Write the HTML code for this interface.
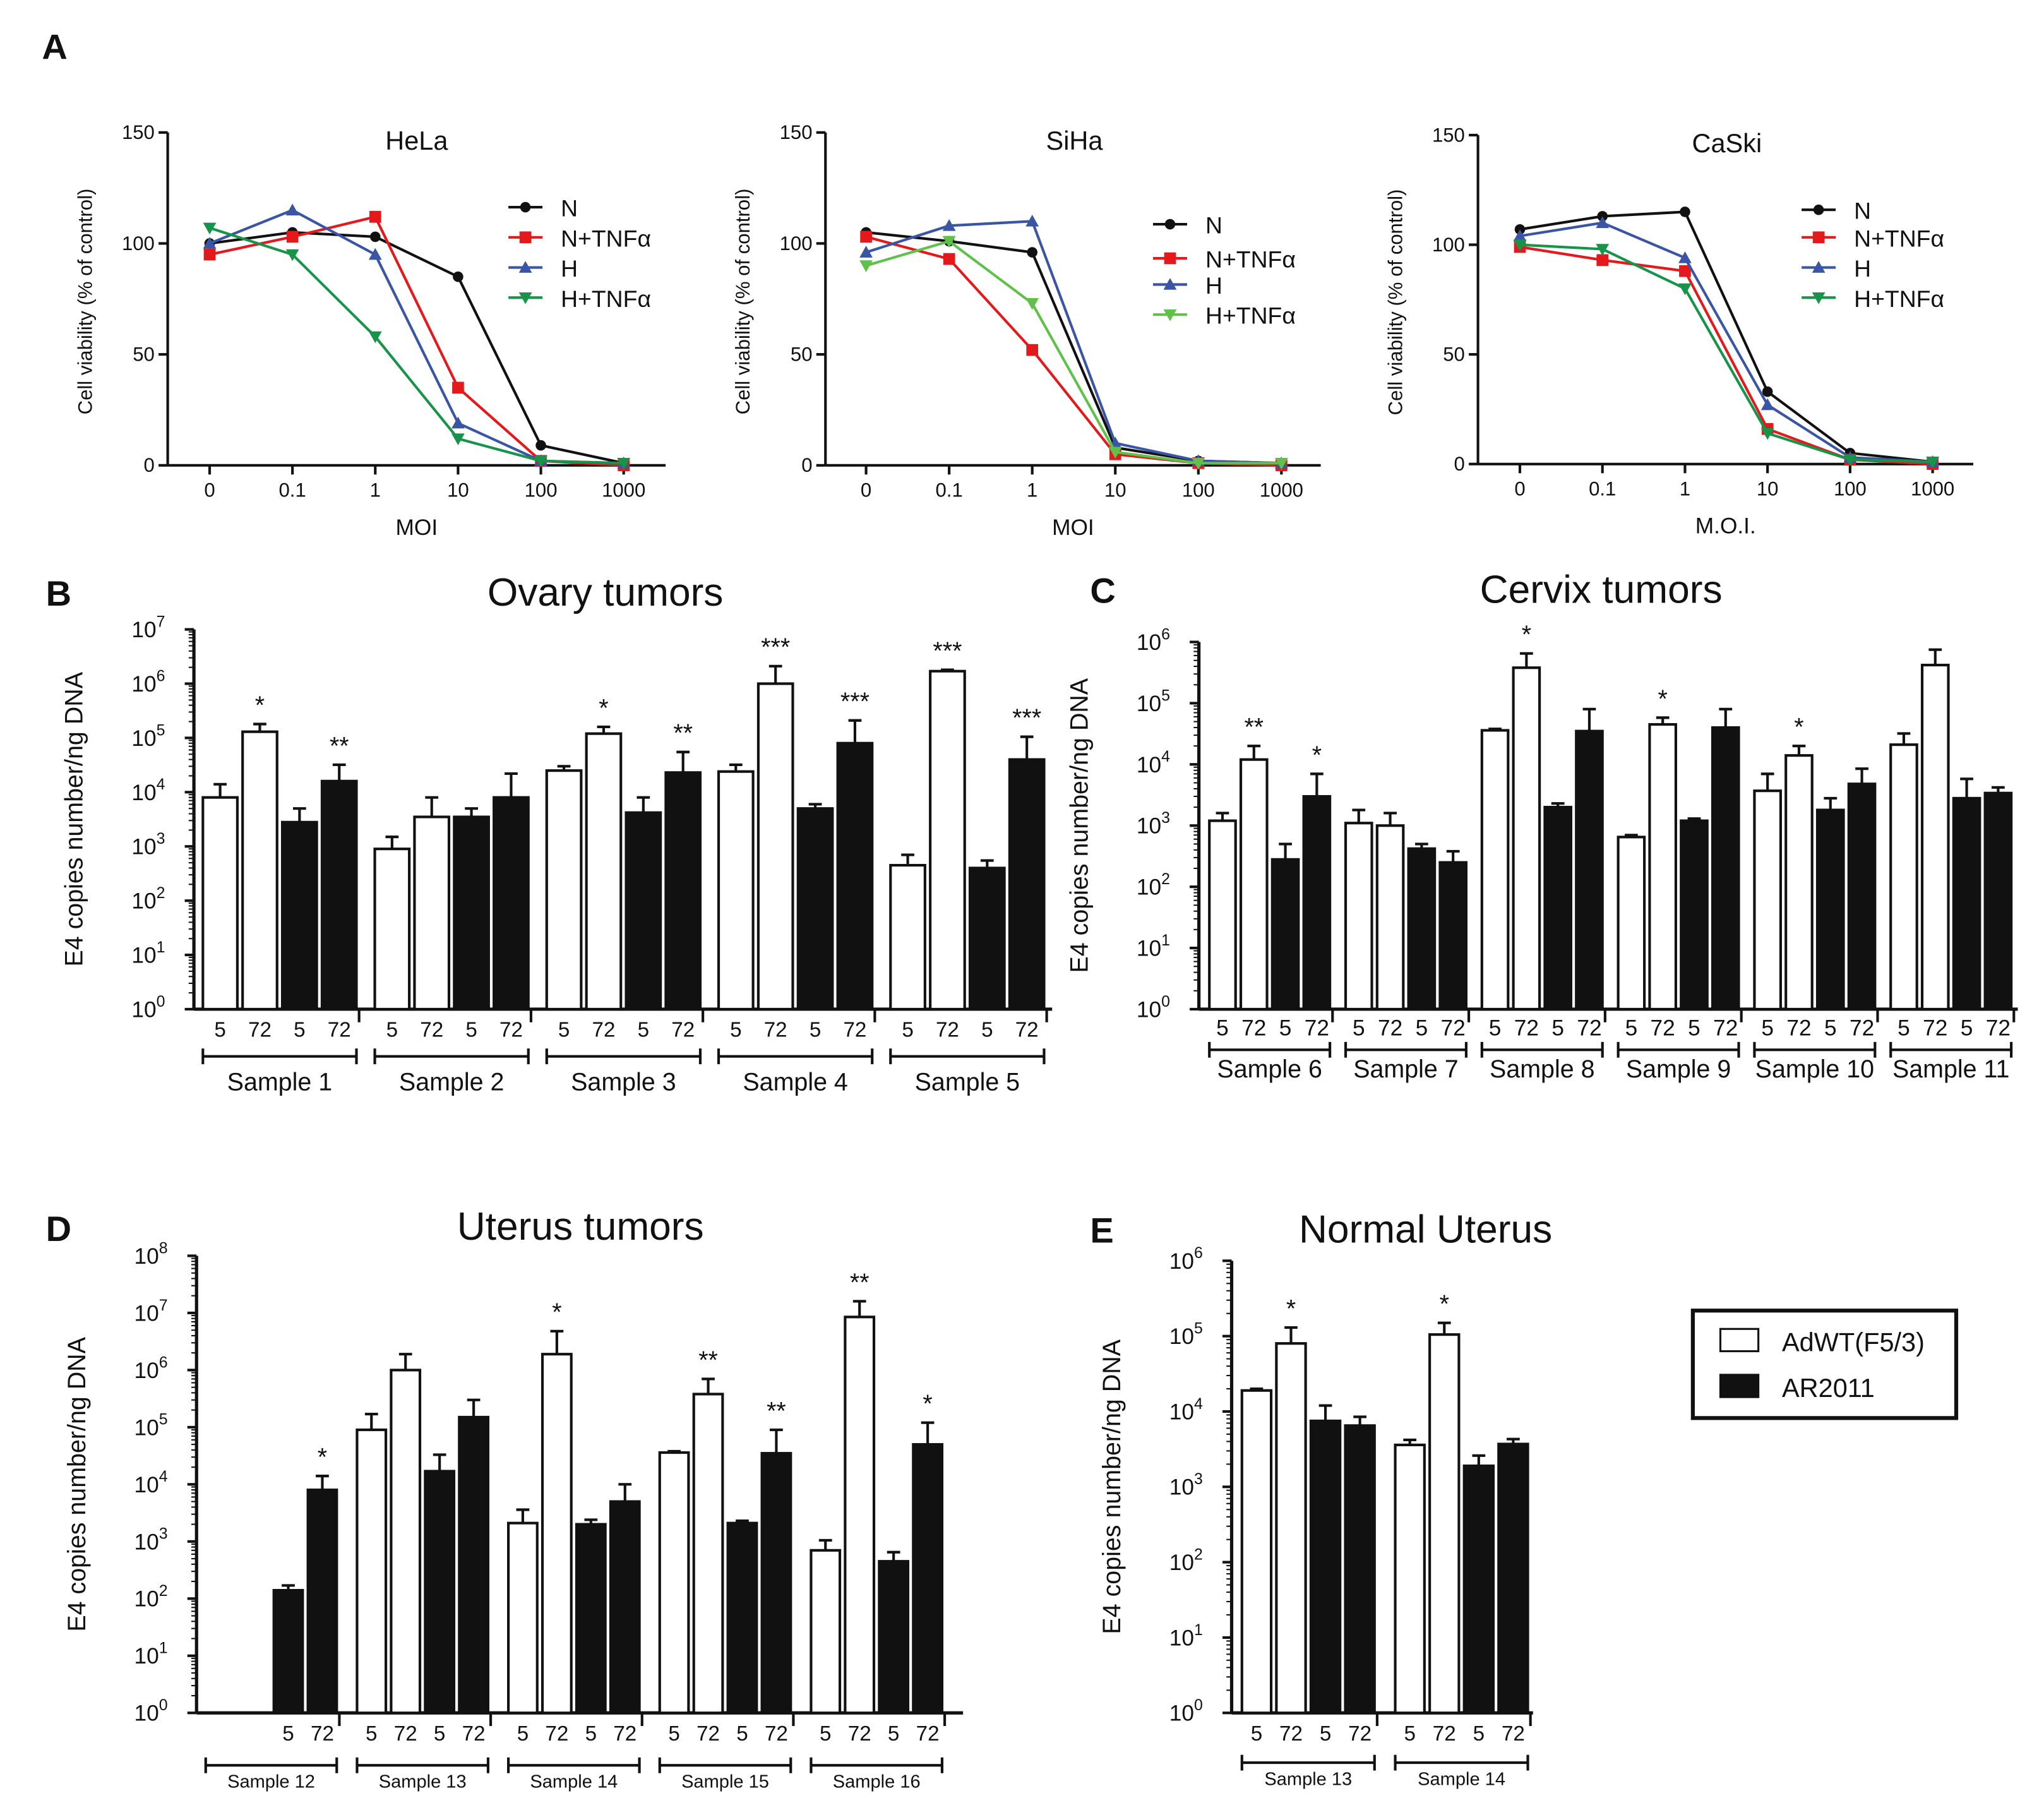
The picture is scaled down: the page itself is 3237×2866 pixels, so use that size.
<!DOCTYPE html>
<html><head><meta charset="utf-8"><style>
html,body{margin:0;padding:0;background:#fff}
svg{display:block}
text{font-family:"Liberation Sans",Arial,sans-serif;fill:#111}
</style></head><body>
<svg id="fig" width="3237" height="2866" viewBox="0 0 1560 1381" xmlns="http://www.w3.org/2000/svg"></svg>
<script>
// ---------- Panel A data ----------
const moiLabels = ["0","0.1","1","10","100","1000"];
const seriesNames = ["N","N+TNFα","H","H+TNFα"];
const helaN = [100,105,103,85,9,1];
const helaNT = [95,103,112,35,2,0];
const helaH = [100,115,95,19,2,1];
const helaHT = [107,95,58,12,2,1];
const sihaN = [105,101,96,8,2,1];
const sihaNT = [103,93,52,5,1,0];
const sihaH = [96,108,110,10,2,1];
const sihaHT = [90,101,73,6,1,1];
const caskiN = [107,113,115,33,5,1];
const caskiNT = [99,93,88,16,2,0];
const caskiH = [104,110,94,27,3,1];
const caskiHT = [100,98,80,14,2,1];
const yTicksA = [0,50,100,150];

// ---------- Panel B data ----------
const bSamples = ["Sample 1","Sample 2","Sample 3","Sample 4","Sample 5"];
const bValues = [[8e3,1.3e5,2.8e3,1.6e4],[9e2,3.5e3,3.5e3,8e3],[2.5e4,1.2e5,4.2e3,2.3e4],[2.4e4,1e6,5e3,8e4],[4.5e2,1.7e6,4e2,4e4]];
const bErr = [[1.4e4,1.8e5,5e3,3.2e4],[1.5e3,8e3,5e3,2.2e4],[3e4,1.6e5,8e3,5.5e4],[3.2e4,2.1e6,6e3,2.1e5],[7e2,1.8e6,5.5e2,1.05e5]];
const bStars = [["","*","","**"],["","","",""],["","*","","**"],["","***","","***"],["","***","","***"]];
// ---------- Panel C data ----------
const cSamples = ["Sample 6","Sample 7","Sample 8","Sample 9","Sample 10","Sample 11"];
const cValues = [[1.2e3,1.2e4,2.8e2,3e3],[1.1e3,1e3,4.2e2,2.5e2],[3.6e4,3.8e5,2e3,3.5e4],[6.5e2,4.5e4,1.2e3,4e4],[3.7e3,1.4e4,1.8e3,4.8e3],[2.1e4,4.2e5,2.8e3,3.4e3]];
const cErr = [[1.6e3,2e4,5e2,7e3],[1.8e3,1.6e3,5e2,3.8e2],[3.8e4,6.5e5,2.3e3,8e4],[7e2,5.8e4,1.3e3,8e4],[7e3,2e4,2.8e3,8.5e3],[3.2e4,7.5e5,5.8e3,4.2e3]];
const cStars = [["","**","","*"],["","","",""],["","*","",""],["","*","",""],["","*","",""],["","","",""]];
// ---------- Panel D data ----------
const dSamples = ["Sample 12","Sample 13","Sample 14","Sample 15","Sample 16"];
const dValues = [[0,0,1.4e2,8e3],[9e4,1e6,1.7e4,1.5e5],[2.1e3,1.9e6,2e3,5e3],[3.6e4,3.8e5,2.1e3,3.5e4],[7e2,8.5e6,4.5e2,5e4]];
const dErr = [[0,0,1.7e2,1.4e4],[1.7e5,1.9e6,3.3e4,3e5],[3.6e3,4.8e6,2.4e3,1e4],[3.8e4,7e5,2.3e3,9e4],[1.05e3,1.6e7,6.5e2,1.2e5]];
const dStars = [["","","","*"],["","","",""],["","*","",""],["","**","","**"],["","**","","*"]];
// ---------- Panel E data ----------
const eSamples = ["Sample 13","Sample 14"];
const eValues = [[1.9e4,8e4,7.5e3,6.5e3],[3.6e3,1.05e5,1.9e3,3.7e3]];
const eErr = [[2e4,1.3e5,1.2e4,8.5e3],[4.2e3,1.5e5,2.6e3,4.3e3]];
const eStars = [["","*","",""],["","*","",""]];
const barTimes = ["5","72","5","72"];

const NS="http://www.w3.org/2000/svg";
const svg=document.getElementById('fig');
function el(tag,attrs,parent,txt){const e=document.createElementNS(NS,tag);for(const k in attrs)e.setAttribute(k,attrs[k]);if(txt!==undefined)e.textContent=txt;(parent||svg).appendChild(e);return e;}

[["A",32,45],["B",35,462],["C",832,460],["D",35,947],["E",832,948]].forEach(p=>{
  const t=el('text',{x:p[1],y:p[2],'font-size':27,'font-weight':'bold'},svg,p[0]);
  
  
});

function lineChart(cfg){
  const g=el('g',{});
  
  
  const y=v=>cfg.y0-(v/150)*(cfg.y0-cfg.y150);
  const x=i=>cfg.xs0+i*cfg.dx;
  el('line',{x1:cfg.ax,y1:cfg.y150,x2:cfg.ax,y2:cfg.y0,stroke:'#111','stroke-width':2},g);
  el('line',{x1:cfg.ax,y1:cfg.y0,x2:cfg.xe,y2:cfg.y0,stroke:'#111','stroke-width':2},g);
  yTicksA.forEach(v=>{
    el('line',{x1:cfg.ax-7,y1:y(v),x2:cfg.ax,y2:y(v),stroke:'#111','stroke-width':2},g);
    el('text',{x:cfg.ax-10,y:y(v)+5,'font-size':15,'text-anchor':'end'},g,String(v));
  });
  moiLabels.forEach((l,i)=>{
    el('line',{x1:x(i),y1:cfg.y0,x2:x(i),y2:cfg.y0+7,stroke:'#111','stroke-width':2},g);
    el('text',{x:x(i),y:cfg.y0+24,'font-size':15,'text-anchor':'middle'},g,l);
  });
  el('text',{x:(cfg.ax+cfg.xe)/2,y:cfg.y0+53,'font-size':17,'text-anchor':'middle'},g,cfg.xlabel);
  el('text',{x:0,y:0,'font-size':15,'text-anchor':'middle',transform:`translate(${cfg.ax-58},${(cfg.y0+cfg.y150)/2+2}) rotate(-90)`},g,'Cell viability (% of control)');
  el('text',{x:cfg.tx,y:cfg.y150+13,'font-size':20,'text-anchor':'middle'},g,cfg.title);
  cfg.series.forEach((s,si)=>{
    const col=cfg.colors[si];
    const pts=s.map((v,i)=>x(i)+','+y(v)).join(' ');
    const pl=el('polyline',{points:pts,fill:'none',stroke:col,'stroke-width':2},g);
    
    
    s.forEach((v,i)=>marker(g,x(i),y(v),si,col));
    const ly=cfg.ly[si];
    el('line',{x1:cfg.lx,y1:ly,x2:cfg.lx+26,y2:ly,stroke:col,'stroke-width':2},g);
    marker(g,cfg.lx+13,ly,si,col);
    el('text',{x:cfg.lx+40,y:ly+7,'font-size':18},g,seriesNames[si]);
  });
}
function marker(g,cx,cy,t,col){
  if(t===0) el('circle',{cx:cx,cy:cy,r:4,fill:col},g);
  else if(t===1) el('rect',{x:cx-4.5,y:cy-4.5,width:9,height:9,fill:col},g);
  else if(t===2) el('polygon',{points:`${cx},${cy-5} ${cx-5},${cy+4} ${cx+5},${cy+4}`,fill:col},g);
  else el('polygon',{points:`${cx},${cy+5} ${cx-5},${cy-4} ${cx+5},${cy-4}`,fill:col},g);
}
lineChart({name:'hela-chart',ax:128,y0:355,y150:101,xs0:160,dx:63.2,xe:508,xlabel:'MOI',title:'HeLa',tx:318,
  series:[helaN,helaNT,helaH,helaHT],colors:['#111','#e3191c','#3b55a5','#16944a'],lx:388,ly:[158,181,204,227]});
lineChart({name:'siha-chart',ax:630,y0:355,y150:101,xs0:661,dx:63.4,xe:1008,xlabel:'MOI',title:'SiHa',tx:820,
  series:[sihaN,sihaNT,sihaH,sihaHT],colors:['#111','#e3191c','#3b55a5','#5fc14a'],lx:880,ly:[171,197,217,240]});
lineChart({name:'caski-chart',ax:1128,y0:354,y150:103,xs0:1160,dx:63,xe:1506,xlabel:'M.O.I.',title:'CaSki',tx:1318,
  series:[caskiN,caskiNT,caskiH,caskiHT],colors:['#111','#e3191c','#3b55a5','#16944a'],lx:1375,ly:[160,181,204,227]});

function barChart(cfg){
  const g=el('g',{});
  
  
  const y=v=>cfg.y0-Math.log10(v)*cfg.dec;
  const yTop=cfg.y0-cfg.maxExp*cfg.dec;
  el('line',{x1:cfg.ax,y1:yTop,x2:cfg.ax,y2:cfg.y0,stroke:'#111','stroke-width':2.5},g);
  el('line',{x1:cfg.ax,y1:cfg.y0,x2:cfg.xe,y2:cfg.y0,stroke:'#111','stroke-width':2.5},g);
  for(let e=0;e<=cfg.maxExp;e++){
    el('line',{x1:cfg.ax-7,y1:y(Math.pow(10,e)),x2:cfg.ax,y2:y(Math.pow(10,e)),stroke:'#111','stroke-width':2},g);
    const t=el('text',{x:cfg.ax-22,y:y(Math.pow(10,e))+6,'font-size':17,'text-anchor':'end'},g);
    t.textContent='10';
    el('tspan',{dy:-8,'font-size':12},t,String(e));
    if(e<cfg.maxExp) for(let m=2;m<10;m++){
      const yy=y(m*Math.pow(10,e));
      el('line',{x1:cfg.ax-4,y1:yy,x2:cfg.ax,y2:yy,stroke:'#111','stroke-width':1},g);
    }
  }
  el('text',{x:0,y:0,'font-size':19,'text-anchor':'middle',transform:`translate(${cfg.ax-85},${(cfg.y0+yTop)/2}) rotate(-90)`},g,'E4 copies number/ng DNA');
  el('text',{x:cfg.tx,y:cfg.ty,'font-size':30,'text-anchor':'middle'},g,cfg.title);
  cfg.samples.forEach((sn,si)=>{
    const base=cfg.x0+si*cfg.sp;
    for(let b=0;b<4;b++){
      const cx=base+b*cfg.bw;
      const v=cfg.values[si][b];
      if(v>0){
        const white=b<2;
        const r=el('rect',{x:cx-cfg.bw/2+2,y:y(v),width:cfg.bw-4,height:cfg.y0-y(v),fill:white?'#fff':'#111',stroke:'#111','stroke-width':2},g);
        
        
        const ev=cfg.err[si][b];
        el('line',{x1:cx,y1:y(v),x2:cx,y2:y(ev),stroke:'#111','stroke-width':2},g);
        el('line',{x1:cx-5,y1:y(ev),x2:cx+5,y2:y(ev),stroke:'#111','stroke-width':2},g);
        const st=cfg.stars[si][b];
        if(st) el('text',{x:cx,y:y(ev)-8,'font-size':19,'text-anchor':'middle'},g,st);
        el('text',{x:cx,y:cfg.y0+cfg.tickOff,'font-size':cfg.tfs,'text-anchor':'middle'},g,barTimes[b]);
      }
    }
    const l=base-cfg.bw/2, r=base+3.5*cfg.bw;
    el('line',{x1:l+2,y1:cfg.y0+cfg.brOff,x2:r-2,y2:cfg.y0+cfg.brOff,stroke:'#111','stroke-width':2},g);
    el('line',{x1:l+2,y1:cfg.y0+cfg.brOff-6,x2:l+2,y2:cfg.y0+cfg.brOff+6,stroke:'#111','stroke-width':2},g);
    el('line',{x1:r-2,y1:cfg.y0+cfg.brOff-6,x2:r-2,y2:cfg.y0+cfg.brOff+6,stroke:'#111','stroke-width':2},g);
    el('line',{x1:r,y1:cfg.y0,x2:r,y2:cfg.y0+10,stroke:'#111','stroke-width':2},g);
    el('text',{x:(l+r)/2,y:cfg.y0+cfg.lblOff,'font-size':cfg.lfs,'text-anchor':'middle'},g,sn);
  });
}
barChart({name:'ovary-chart',ax:148,y0:770,dec:41.4,maxExp:7,xe:803,x0:168,sp:131.2,bw:30.3,samples:bSamples,values:bValues,err:bErr,stars:bStars,
  title:'Ovary tumors',tx:462,ty:462,tickOff:21,brOff:36,lblOff:62,tfs:16,lfs:19});
barChart({name:'cervix-chart',ax:915,y0:770,dec:46.7,maxExp:6,xe:1540,x0:933,sp:104,bw:24,samples:cSamples,values:cValues,err:cErr,stars:cStars,
  title:'Cervix tumors',tx:1222,ty:460,tickOff:20,brOff:31,lblOff:52,tfs:17,lfs:19});
barChart({name:'uterus-chart',ax:150,y0:1307,dec:43.6,maxExp:8,xe:735,x0:168,sp:115.5,bw:26,samples:dSamples,values:dValues,err:dErr,stars:dStars,
  title:'Uterus tumors',tx:443,ty:946,tickOff:21,brOff:40,lblOff:57,tfs:16,lfs:14});
barChart({name:'normal-uterus-chart',ax:940,y0:1307,dec:57.5,maxExp:6,xe:1170,x0:959,sp:117,bw:26.3,samples:eSamples,values:eValues,err:eErr,stars:eStars,
  title:'Normal Uterus',tx:1088,ty:948,tickOff:21,brOff:38,lblOff:55,tfs:16,lfs:14});

const lg=el('g',{});


el('rect',{x:1292,y:1000,width:201,height:82,fill:'#fff',stroke:'#111','stroke-width':3},lg);
el('rect',{x:1313,y:1014,width:29,height:17,fill:'#fff',stroke:'#111','stroke-width':1.5},lg);
el('text',{x:1360,y:1031,'font-size':20},lg,'AdWT(F5/3)');
el('rect',{x:1313,y:1049,width:29,height:17,fill:'#111',stroke:'#111','stroke-width':1.5},lg);
el('text',{x:1360,y:1066,'font-size':20},lg,'AR2011');
</script>
</body></html>
